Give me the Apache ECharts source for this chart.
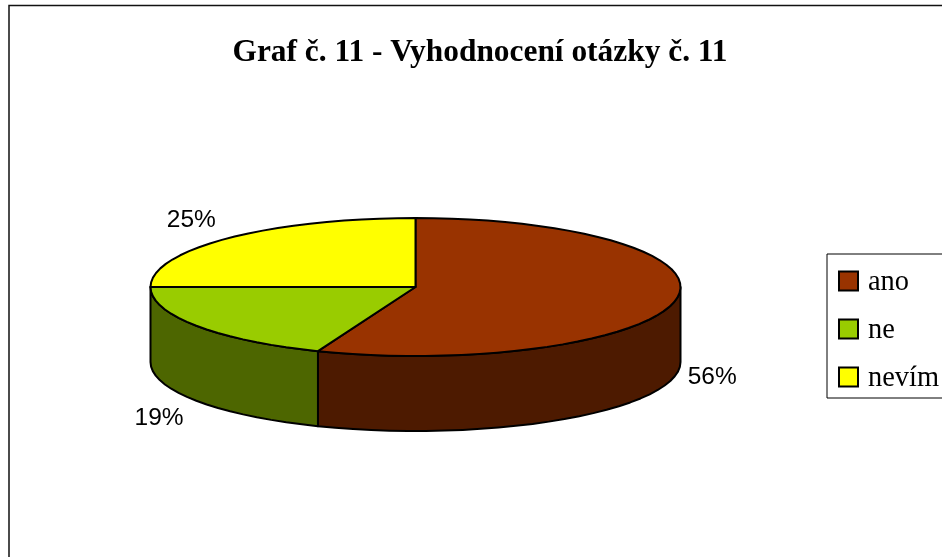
<!DOCTYPE html>
<html><head><meta charset="utf-8">
<style>html,body{margin:0;padding:0;background:#fff}#c{width:942px;height:557px}</style>
<script src="https://cdn.jsdelivr.net/npm/echarts@6/dist/echarts.min.js"></script>
</head><body><div id="c"></div>
<script>
const categories = ['ano', 'ne', 'nevím'];
const values = [56, 19, 25];
const topColors = ['#993300', '#99cc00', '#ffff00'];
const sideColors = ['#4d1a00', '#4d6600', '#808000'];
const titleText = 'Graf č. 11 - Vyhodnocení otázky č. 11';

const cx = 415.5, cy = 287, rx = 265, ry = 69, depth = 75;
const labelGapX = [37, 45, 52], labelGapY = [15, 31, 26];
const total = values.reduce((a, b) => a + b, 0);
const pt = (deg, dy) => {
  const t = deg * Math.PI / 180;
  return [cx + rx * Math.sin(t), cy - ry * Math.cos(t) + (dy || 0)];
};
const arc = (a, b, dy) => {
  const out = [], n = Math.max(2, Math.ceil((b - a) / 4));
  for (let i = 0; i <= n; i++) out.push(pt(a + (b - a) * i / n, dy));
  return out;
};
const stroke = { stroke: '#000', lineWidth: 2, lineJoin: 'round' };

function renderSlice(i) {
  const before = values.slice(0, i).reduce((a, b) => a + b, 0);
  const a = before / total * 360, b = (before + values[i]) / total * 360;
  const children = [];
  const sa = Math.max(a, 90), sb = Math.min(b, 270);
  if (sb > sa) {
    const pts = arc(sa, sb, 0).concat(arc(sa, sb, depth).reverse());
    children.push({ type: 'polygon', shape: { points: pts }, style: { fill: sideColors[i], ...stroke } });
  }
  children.push({ type: 'polygon', shape: { points: [[cx, cy]].concat(arc(a, b, 0)) }, style: { fill: topColors[i], ...stroke } });
  const mid = (a + b) / 2, t = mid * Math.PI / 180;
  const front = mid > 90 && mid < 270;
  children.push({
    type: 'text',
    style: {
      x: cx + (rx + labelGapX[i]) * Math.sin(t),
      y: cy - (ry + labelGapY[i]) * Math.cos(t) + (front ? depth : 0),
      text: Math.round(values[i] / total * 100) + '%',
      fill: '#000', font: '24.5px "Liberation Sans"', align: 'center', verticalAlign: 'middle'
    }
  });
  return { type: 'group', children };
}

const chart = echarts.init(document.getElementById('c'), null, { renderer: 'canvas' });
chart.setOption({
  animation: false,
  backgroundColor: '#fff',
  title: {
    text: titleText, left: 475, top: 32, textAlign: 'center',
    textStyle: { fontFamily: 'Liberation Serif', fontWeight: 'bold', fontSize: 31.4, color: '#000' }
  },
  legend: {
    data: categories, orient: 'vertical', left: 827, top: 254,
    backgroundColor: '#fff', borderColor: '#000', borderWidth: 1,
    padding: [11, 12, 5, 11], itemWidth: 19, itemHeight: 19, itemGap: 16,
    icon: 'rect', selectedMode: false,
    formatter: name => '{a|' + name + '}',
    itemStyle: { borderColor: '#000', borderWidth: 2 },
    textStyle: {
      rich: { a: { fontFamily: 'Liberation Serif', fontSize: 28.4, color: '#000', lineHeight: 28, padding: [4, 0, 0, 5] } }
    }
  },
  graphic: [{
    type: 'rect', silent: true, z: -1,
    shape: { x: 9, y: 5.5, width: 1000, height: 1000 },
    style: { fill: '#fff', stroke: '#111', lineWidth: 1.5 }
  }],
  series: categories.map((name, i) => ({
    type: 'custom', name, coordinateSystem: 'none', silent: true,
    itemStyle: { color: topColors[i] },
    data: [values[i]],
    renderItem: () => renderSlice(i)
  }))
});
</script></body></html>
